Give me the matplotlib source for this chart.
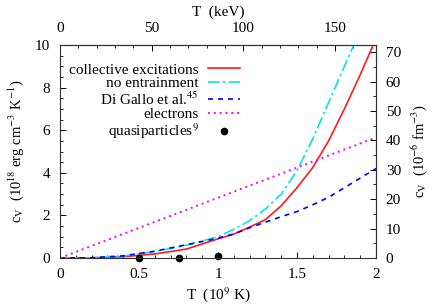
import numpy as np
import matplotlib
matplotlib.use('Agg')
import matplotlib.pyplot as plt
from matplotlib.ticker import MultipleLocator, FixedLocator

plt.rcParams['font.family'] = ['Liberation Serif', 'DejaVu Serif']
plt.rcParams['mathtext.fontset'] = 'stix'

# temperature grid (10^9 K) and specific heats (10^18 erg cm^-3 K^-1)
T = [0, 0.2, 0.4, 0.6, 0.8, 1.0, 1.1, 1.2, 1.3, 1.4, 1.5, 1.6, 1.7, 1.8, 1.9, 2.0]
cv_collective = [0, 0.01, 0.06, 0.19, 0.42, 0.90, 1.12, 1.45, 1.80, 2.45, 3.3, 4.25, 5.5, 7.0, 8.6, 10.3]
cv_no_entr = [0, 0.01, 0.10, 0.30, 0.60, 1.0, 1.35, 1.75, 2.3, 3.0, 4.1, 5.6, 7.3, 9.0, 10.7, 12.5]
cv_digallo = [0, 0.01, 0.10, 0.32, 0.62, 0.93, 1.13, 1.42, 1.68, 1.94, 2.18, 2.50, 2.85, 3.30, 3.75, 4.2]

T_el = [0, 2.0]
cv_el = [0, 5.66]

T_qp = [0.5, 0.75, 1.0]
cv_qp = [0.0, 0.005, 0.1]

kev_ticks = [0, 50, 100, 150]
fm_ticks = [0, 10, 20, 30, 40, 50, 60, 70]

KEV_PER_T9 = 86.173
FM_PER_UNIT = 7.243
FS = 11

fig = plt.figure(figsize=(4.36, 3.05), dpi=100)
ax = fig.add_axes([60/436, 47/305, 316/436, 213/305])

ax.plot(T, cv_collective, color='#ff1a1a', lw=1.2, label='collective excitations')
ax.plot(T, cv_no_entr, color='#00e5ee', lw=1.2, dashes=(7, 2, 1.5, 2), label='no entrainment')
ax.plot(T, cv_digallo, color='#0000ff', lw=1.2, dashes=(3, 3), label='Di Gallo et al.$^{45}$')
ax.plot(T_el, cv_el, color='#ff00ff', lw=1.4, dashes=(1, 2), label='electrons')
ax.plot(T_qp, cv_qp, 'o', color='black', ms=4.5, clip_on=False, label='quasiparticles$^{9}$')

ax.set_xlim(0, 2)
ax.set_ylim(0, 10)
ax.xaxis.set_minor_locator(MultipleLocator(0.1))
ax.yaxis.set_major_locator(MultipleLocator(2))
ax.yaxis.set_minor_locator(MultipleLocator(0.5))
ax.set_xticks([0, 0.5, 1, 1.5, 2])
ax.set_xticklabels(['0', '0.5', '1', '1.5', '2'])

ax.set_xlabel('T  (10$^{9}$ K)', fontsize=FS, labelpad=3)
ax.set_ylabel('c$_\\mathrm{V}$  (10$^{18}$ erg cm$^{-3}$ K$^{-1}$)', fontsize=10.5)
ax.yaxis.set_label_coords(-0.139, 0.5)
ax.yaxis.label.set_va('center')

tick_kw = dict(direction='in', labelsize=FS, pad=7)
ax.tick_params(which='major', length=4, width=0.7, top=False, right=False, **tick_kw)
ax.tick_params(which='minor', length=2, width=0.6, top=False, right=False, direction='in')

top = ax.secondary_xaxis('top', functions=(lambda x: x * KEV_PER_T9, lambda x: x / KEV_PER_T9))
top.xaxis.set_major_locator(FixedLocator(kev_ticks))
top.xaxis.set_minor_locator(MultipleLocator(10))
top.tick_params(which='major', length=4, width=0.7, **tick_kw)
top.tick_params(which='minor', length=2, width=0.6, direction='in')
top.set_xlabel('T  (keV)', fontsize=FS, labelpad=5)

right = ax.secondary_yaxis('right', functions=(lambda y: y * FM_PER_UNIT, lambda y: y / FM_PER_UNIT))
right.yaxis.set_major_locator(FixedLocator(fm_ticks))
right.yaxis.set_minor_locator(MultipleLocator(5))
right.tick_params(which='major', length=4, width=0.7, **tick_kw)
right.tick_params(which='minor', length=2, width=0.6, direction='in')
right.set_ylabel('c$_\\mathrm{V}$  (10$^{-6}$ fm$^{-3}$)', fontsize=10.5)
right.yaxis.set_label_coords(1.136, 0.5, transform=ax.transAxes)
right.yaxis.label.set_va('center')
right.yaxis.label.set_rotation(90)

for sp in ax.spines.values():
    sp.set_linewidth(0.8)
    sp.set_color('#333333')

ax.legend(loc='upper right', bbox_to_anchor=(0.57, 0.915), frameon=False,
          markerfirst=False, fontsize=FS, handlelength=2.1, handletextpad=0.6,
          labelspacing=0.0, borderpad=0, borderaxespad=0)

fig.savefig('out.png', dpi=100)
